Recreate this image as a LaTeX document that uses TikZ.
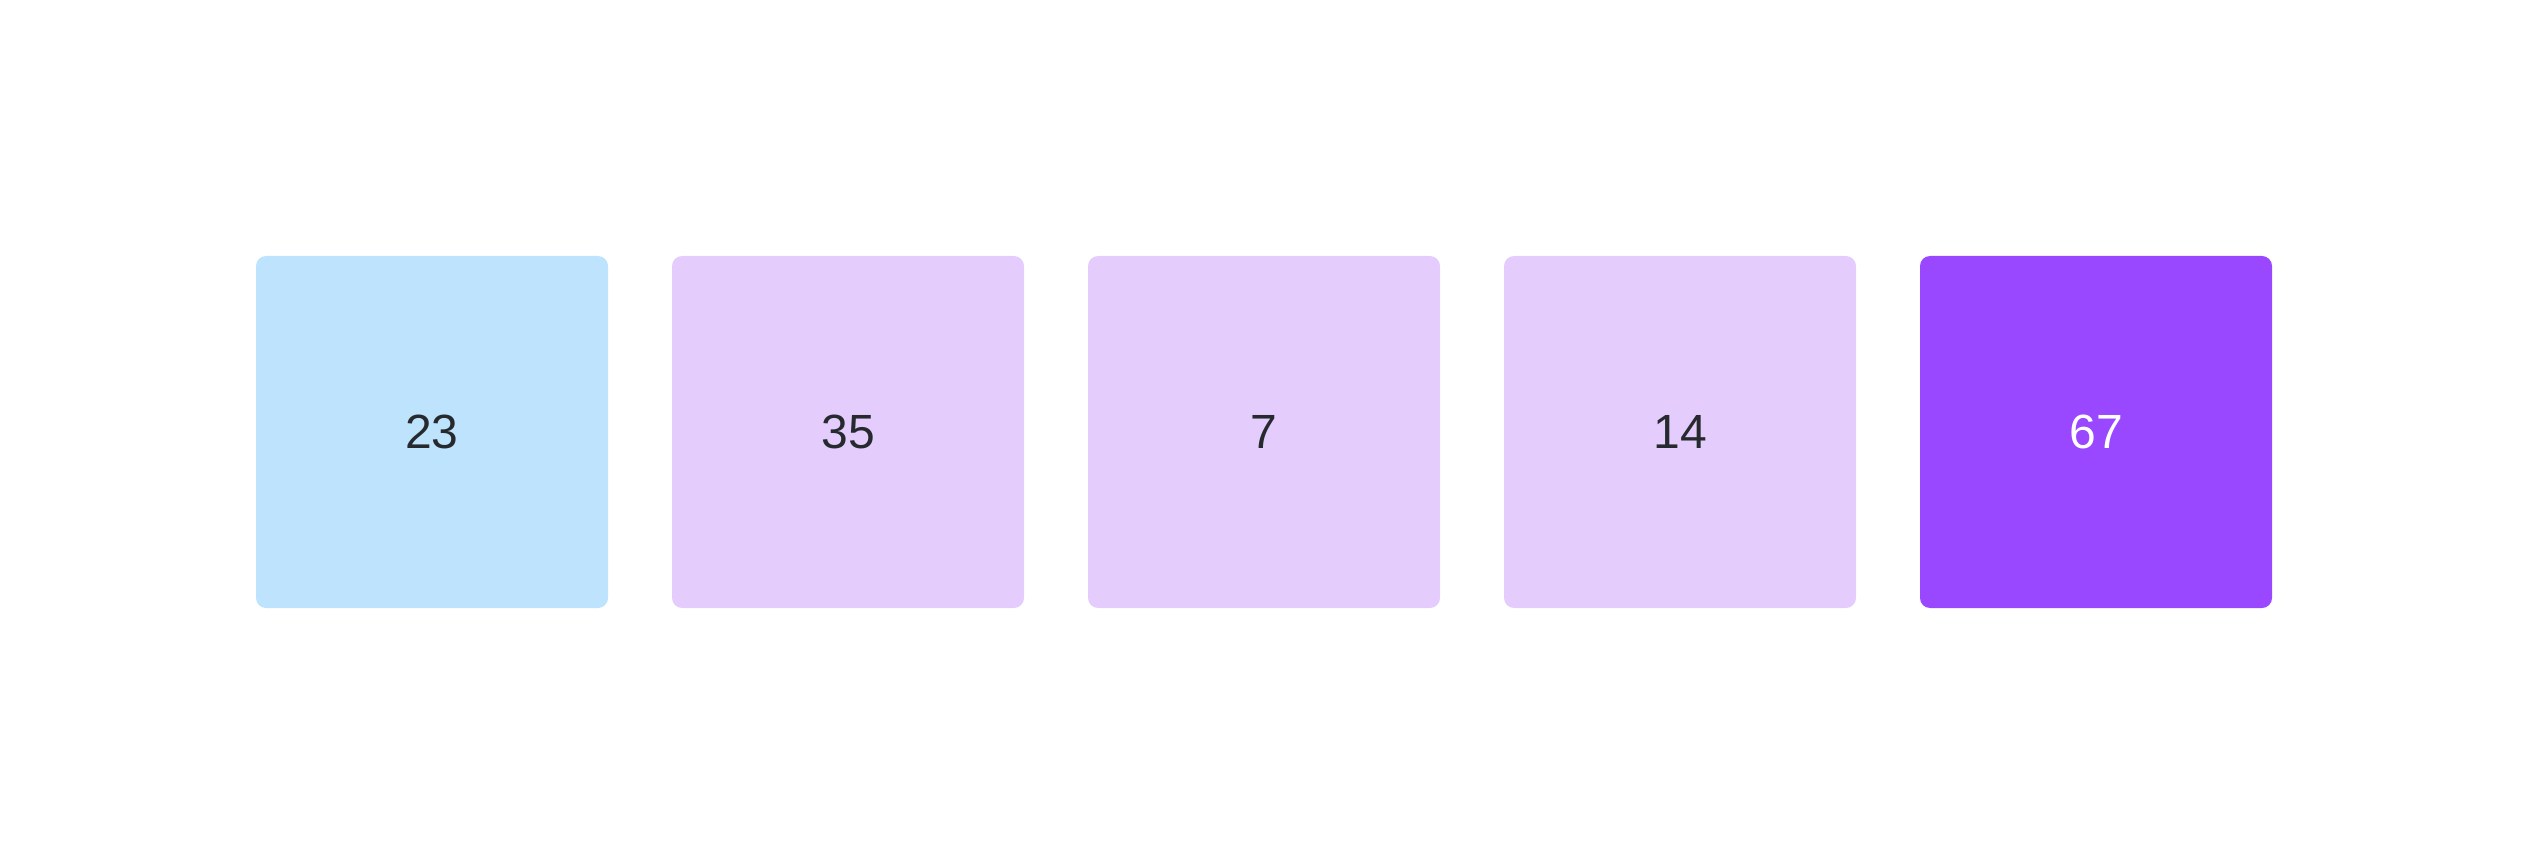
\documentclass[tikz,border=0pt]{standalone}
\usepackage{fontspec}
\setmainfont{Liberation Sans}
\usetikzlibrary{positioning}
\definecolor{cellblue}{RGB}{190,227,252}
\definecolor{cellpurple}{RGB}{228,204,253}
\definecolor{cellpick}{RGB}{154,72,255}
\definecolor{celltext}{RGB}{38,42,46}
\tikzset{
  node distance=32pt,
  cell/.style={rectangle, rounded corners=5pt, minimum size=176pt,
    inner sep=0pt, outer sep=0pt, font=\fontsize{24}{28}\selectfont,
    text=celltext},
}

\begin{document}
\begin{tikzpicture}
      \useasboundingbox (0,0) rectangle (1264pt,432pt);
      \node[cell,fill=cellblue] at (216pt,216pt) (c0) {23};
      \node[cell,fill=cellpurple,right=of c0]     (c1) {35};
      \node[cell,fill=cellpurple,right=of c1]     (c2) {7};
      \node[cell,fill=cellpurple,right=of c2]     (c3) {14};
      \node[cell,fill=cellpick,text=white,right=of c3] (c4) {67};
\end{tikzpicture}
\end{document}
